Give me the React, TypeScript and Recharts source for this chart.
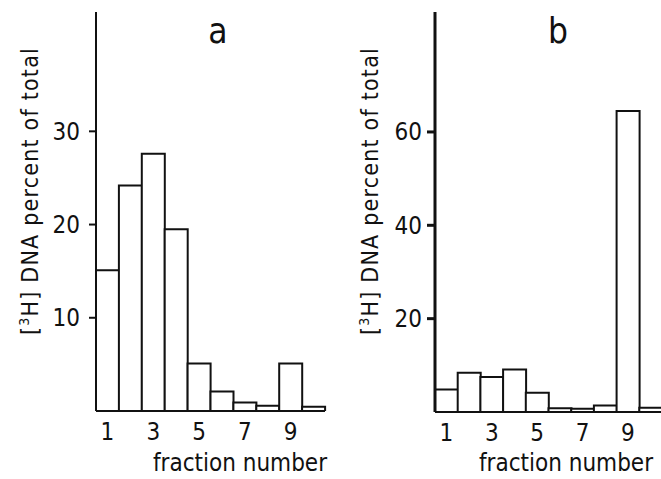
import { BarChart, Bar, XAxis, YAxis } from 'recharts';

const fractions = ['1', '2', '3', '4', '5', '6', '7', '8', '9', '10'];
const panelAValues = [15.1, 24.2, 27.6, 19.5, 5.1, 2.1, 0.9, 0.55, 5.1, 0.45];
const panelBValues = [4.8, 8.4, 7.5, 9.1, 4.1, 0.8, 0.7, 1.4, 64.5, 0.9];
const panelATicks = [10, 20, 30];
const panelBTicks = [20, 40, 60];

const dataA = fractions.map((f, i) => ({ fraction: f, value: panelAValues[i] }));
const dataB = fractions.map((f, i) => ({ fraction: f, value: panelBValues[i] }));

const ink = '#111';
const font = "'DejaVu Sans Condensed', 'DejaVu Sans', sans-serif";

function YTitle({ x, y }: { x: number; y: number }) {
  return (
    <text
      x={x}
      y={y}
      transform={`rotate(-90, ${x}, ${y})`}
      textAnchor="middle"
      fontSize={23}
      letterSpacing={1.2}
      fill={ink}
      style={{ whiteSpace: 'pre' }}
    >
      [<tspan fontSize={14} dy={-9}>3</tspan>
      <tspan dy={9}>H] DNA percent of total</tspan>
    </text>
  );
}

function Panel({
  data,
  ticks,
  max,
  letter,
  width,
  margin,
  yLabelX,
  titleX,
  xLabelX,
  tickSize,
  tickMargin,
  axisWidth,
}: any) {
  return (
    <BarChart width={width} height={479} data={data} margin={margin} barCategoryGap={0}>
      <XAxis
        dataKey="fraction"
        interval={1}
        height={30}
        tickLine={false}
        tickSize={6}
        tickMargin={6}
        stroke={ink}
        strokeWidth={2}
        tick={{ fill: ink, fontSize: 24 }}
      />
      <YAxis
        type="number"
        domain={[0, max]}
        ticks={ticks}
        allowDataOverflow
        width={60}
        tickSize={tickSize}
        tickMargin={tickMargin}
        stroke={ink}
        strokeWidth={axisWidth}
        tick={{ fill: ink, fontSize: 24 }}
      />
      <Bar dataKey="value" fill="#fff" stroke={ink} strokeWidth={2} isAnimationActive={false} />
      <YTitle x={yLabelX} y={191} />
      <text x={titleX} y={43} textAnchor="middle" fontSize={35} fill={ink}>
        {letter}
      </text>
      <text x={xLabelX} y={471} textAnchor="middle" fontSize={24} fill={ink}>
        fraction number
      </text>
    </BarChart>
  );
}

export default function App() {
  return (
    <div
      style={{
        position: 'absolute',
        left: 0,
        top: 0,
        width: 661,
        height: 479,
        overflow: 'hidden',
        background: '#fff',
        fontFamily: font,
        fontStretch: 'condensed',
      }}
    >
      <div style={{ position: 'absolute', left: 0, top: 0 }}>
        <Panel
          data={dataA}
          ticks={panelATicks}
          max={42.8}
          letter="a"
          width={330}
          margin={{ top: 12, right: 5, bottom: 38, left: 36 }}
          yLabelX={38}
          titleX={218}
          xLabelX={240}
          tickSize={7}
          tickMargin={9}
          axisWidth={2}
        />
      </div>
      <div style={{ position: 'absolute', left: 330, top: 0 }}>
        <Panel
          data={dataB}
          ticks={panelBTicks}
          max={85.7}
          letter="b"
          width={332}
          margin={{ top: 12, right: 0, bottom: 37, left: 45 }}
          yLabelX={48}
          titleX={228}
          xLabelX={236}
          tickSize={8}
          tickMargin={5}
          axisWidth={3}
        />
      </div>
    </div>
  );
}
